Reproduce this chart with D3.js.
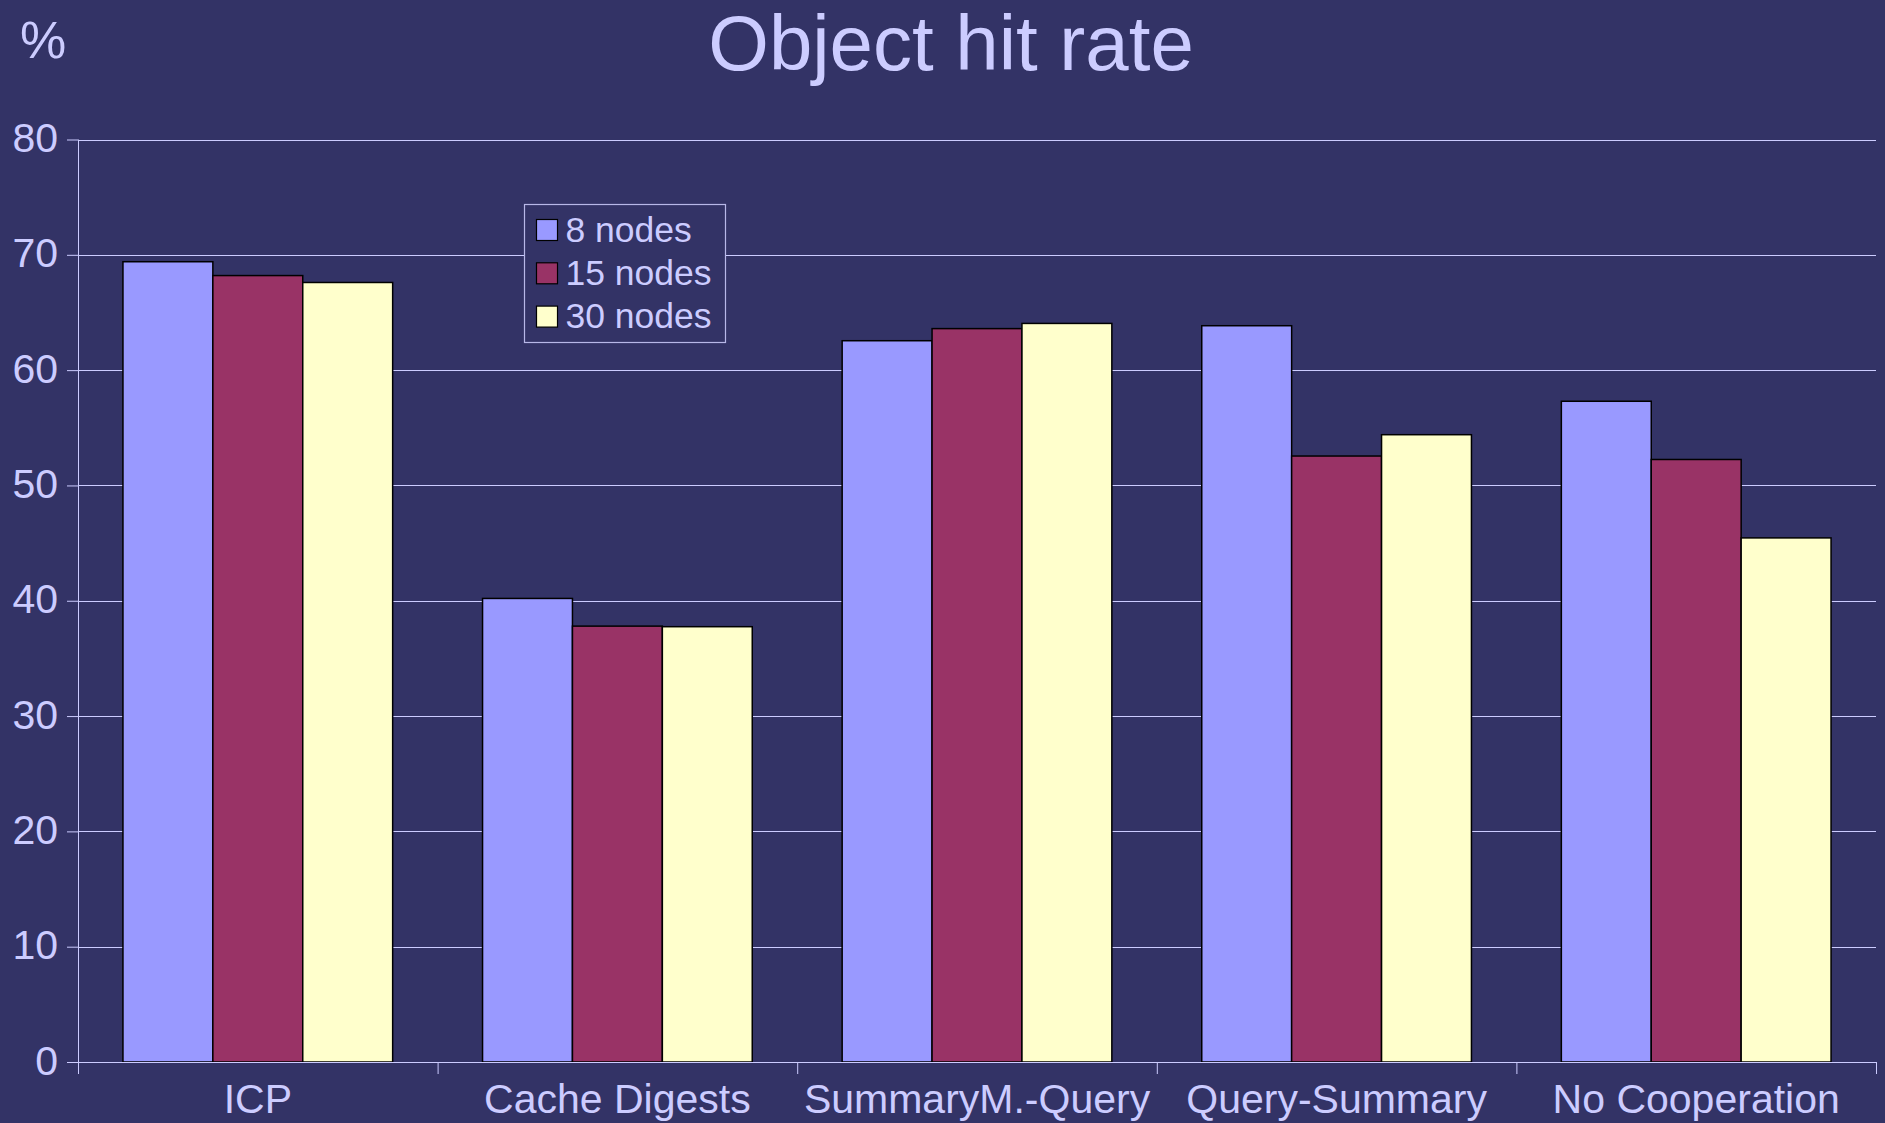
<!DOCTYPE html>
<html>
<head>
<meta charset="utf-8">
<script src="https://cdn.jsdelivr.net/npm/d3@7"></script>
<style>
  html, body { margin: 0; padding: 0; background: #333366; }
  svg { display: block; font-family: "Liberation Sans", Arial, Helvetica, sans-serif; }
</style>
</head>
<body>
<svg id="chart"></svg>
<script>
const categories = ["ICP", "Cache Digests", "SummaryM.-Query", "Query-Summary", "No Cooperation"];
const seriesNames = ["8 nodes", "15 nodes", "30 nodes"];
const nodes8 = [69.4, 40.2, 62.55, 63.85, 57.3];
const nodes15 = [68.2, 37.8, 63.6, 52.55, 52.25];
const nodes30 = [67.6, 37.75, 64.05, 54.4, 45.45];
const yTicks = [0, 10, 20, 30, 40, 50, 60, 70, 80];

const seriesValues = [nodes8, nodes15, nodes30];
const colors = ["#9999ff", "#993366", "#ffffcc"];
const textColor = "#ccccff";

const width = 1885, height = 1123;
const margin = {top: 139.5, right: 9, bottom: 61, left: 78};

const svg = d3.select("#chart")
    .attr("width", width)
    .attr("height", height)
    .style("background", "#333366");

const x = d3.scaleBand()
    .domain(categories)
    .range([margin.left, width - margin.right])
    .paddingInner(0)
    .paddingOuter(0);

const bw = x.bandwidth();
const xs = d3.scaleBand()
    .domain(seriesNames)
    .range([bw / 8, bw * 7 / 8]);

const y = d3.scaleLinear()
    .domain([0, 80])
    .range([height - margin.bottom, margin.top]);

// title
svg.append("text")
    .attr("x", 951)
    .attr("y", 70)
    .attr("text-anchor", "middle")
    .attr("fill", textColor)
    .style("font-size", "78px")
    .text("Object hit rate");

svg.append("text")
    .attr("x", 20)
    .attr("y", 58)
    .attr("fill", textColor)
    .style("font-size", "52px")
    .text("%");

// gridlines
svg.append("g")
    .selectAll("line")
    .data(yTicks.filter(d => d > 0))
    .enter().append("line")
    .attr("x1", margin.left)
    .attr("x2", width - margin.right)
    .attr("y1", d => Math.round(y(d)) + 0.5)
    .attr("y2", d => Math.round(y(d)) + 0.5)
    .attr("stroke", textColor)
    .attr("stroke-width", 1);

// bars
seriesNames.forEach((name, si) => {
    svg.append("g")
        .selectAll("rect")
        .data(categories)
        .enter().append("rect")
        .attr("x", (c) => x(c) + xs(name))
        .attr("y", (c, i) => y(seriesValues[si][i]))
        .attr("width", xs.bandwidth())
        .attr("height", (c, i) => y(0) - y(seriesValues[si][i]))
        .attr("fill", colors[si])
        .attr("stroke", "#000")
        .attr("stroke-width", 1.5);
});

// y axis
const yAxis = svg.append("g")
    .attr("transform", `translate(${margin.left},0)`)
    .call(d3.axisLeft(y).tickValues(yTicks).tickSize(11).tickPadding(9));
yAxis.select(".domain")
    .attr("stroke", textColor)
    .attr("d", `M0.5,${y(80)}V${y(0) + 12}`);
yAxis.selectAll(".tick line").attr("stroke", textColor);
yAxis.selectAll(".tick text")
    .attr("fill", textColor)
    .attr("dy", null)
    .attr("y", 12)
    .style("font-size", "41px")
    .style("font-family", "'Liberation Sans', Arial, sans-serif");

// x axis
const xAxis = svg.append("g")
    .attr("transform", `translate(0,${y(0)})`)
    .call(d3.axisBottom(x).tickSize(0).tickPadding(0));
xAxis.select(".domain").attr("stroke", textColor).attr("d", `M${margin.left},0.5H${width - margin.right}`);
xAxis.selectAll(".tick text")
    .attr("fill", textColor)
    .attr("dy", null)
    .attr("y", 51)
    .style("font-size", "41px")
    .style("font-family", "'Liberation Sans', Arial, sans-serif");
xAxis.selectAll(".boundary")
    .data(categories.slice(1).concat([null]))
    .enter().append("line")
    .attr("class", "boundary")
    .attr("x1", c => (c === null ? x.range()[1] : x(c)) + 0.5)
    .attr("x2", c => (c === null ? x.range()[1] : x(c)) + 0.5)
    .attr("y1", 0)
    .attr("y2", 12)
    .attr("stroke", textColor);

// legend
const legend = svg.append("g").attr("transform", "translate(524.5,204.5)");
legend.append("rect")
    .attr("width", 201)
    .attr("height", 138)
    .attr("fill", "#333366")
    .attr("stroke", "#b8b8e8")
    .attr("stroke-width", 1.2);
seriesNames.forEach((name, i) => {
    const row = legend.append("g").attr("transform", `translate(12,${15 + i * 43.3})`);
    row.append("rect")
        .attr("width", 21)
        .attr("height", 21)
        .attr("fill", colors[i])
        .attr("stroke", "#000")
        .attr("stroke-width", 1.2);
    row.append("text")
        .attr("x", 29)
        .attr("y", 22)
        .attr("fill", textColor)
        .style("font-size", "35.5px")
        .text(name);
});
</script>
</body>
</html>
